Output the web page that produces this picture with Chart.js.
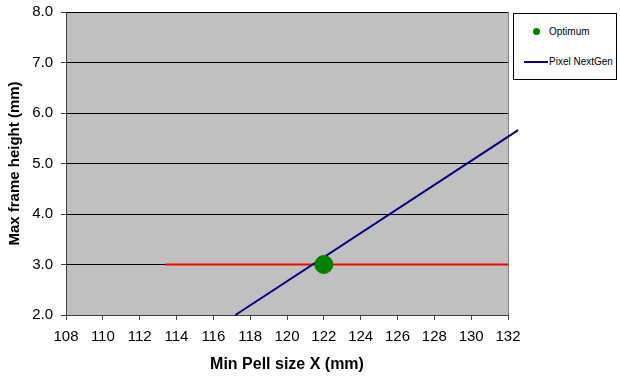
<!DOCTYPE html>
<html>
<head>
<meta charset="utf-8">
<script src="https://cdn.jsdelivr.net/npm/chart.js@4/dist/chart.umd.min.js"></script>
<style>
  body { margin: 0; background: #fff; }
  #wrap { position: relative; width: 620px; height: 378px; }
  #legend {
    position: absolute; left: 513px; top: 13px; width: 104px; height: 67px;
    border: 1px solid #000; box-sizing: border-box; background: #fff;
    font-family: "Liberation Sans", Arial, sans-serif; font-size: 10px; color: #000;
  }
  .item { position: absolute; left: 0; display: flex; align-items: center; }
  .dot { width: 7px; height: 7px; border-radius: 50%; background: #008000; margin-left: 19px; margin-right: 9px; }
  .ln { width: 24px; height: 2px; background: #000080; margin-left: 10px; margin-right: 1px; }
</style>
</head>
<body>
<div id="wrap">
  <canvas id="chart" width="620" height="378"></canvas>
  <div id="legend">
    <div class="item" style="top:12px"><span class="dot"></span>Optimum</div>
    <div class="item" style="top:42px"><span class="ln"></span>Pixel NextGen</div>
  </div>
</div>
<script>
var xTicks = [108, 110, 112, 114, 116, 118, 120, 122, 124, 126, 128, 130, 132];
var yTicks = [2.0, 3.0, 4.0, 5.0, 6.0, 7.0, 8.0];
var optimumX = [122];
var optimumY = [3.0];
var limitX = [113.4, 132];
var limitY = [3.0, 3.0];
var nextGenX = [117.2, 132.55];
var nextGenY = [2.0, 5.66];

function pts(xs, ys) {
  var out = [];
  xs.forEach(function(x, i) { out.push({ x: x, y: ys[i] }); });
  return out;
}

var plotBg = {
  id: 'plotBg',
  beforeDraw: function(chart) {
    var a = chart.chartArea, ctx = chart.ctx;
    ctx.save();
    ctx.fillStyle = '#c0c0c0';
    ctx.fillRect(a.left, a.top, a.right - a.left, a.bottom - a.top);
    ctx.strokeStyle = '#808080';
    ctx.lineWidth = 1;
    ctx.beginPath();
    ctx.moveTo(a.right + 0.5, a.top);
    ctx.lineTo(a.right + 0.5, a.bottom);
    ctx.stroke();
    ctx.restore();
  }
};

var fam = '"Liberation Sans", Arial, sans-serif';
var tickFont = { family: fam, size: 15 };

new Chart(document.getElementById('chart'), {
  type: 'scatter',
  data: {
    datasets: [
      {
        label: 'Limit',
        type: 'line',
        data: pts(limitX, limitY),
        borderColor: '#ff0000',
        borderWidth: 2,
        pointRadius: 0,
        order: 3
      },
      {
        label: 'Pixel NextGen',
        type: 'line',
        data: pts(nextGenX, nextGenY),
        borderColor: '#000080',
        borderWidth: 2,
        pointRadius: 0,
        clip: false,
        order: 2
      },
      {
        label: 'Optimum',
        data: pts(optimumX, optimumY),
        backgroundColor: '#008000',
        borderColor: '#008000',
        pointRadius: 9,
        order: 1
      }
    ]
  },
  options: {
    responsive: false,
    animation: false,
    layout: { padding: { top: 12, right: 112, left: 0, bottom: 0 } },
    plugins: { legend: { display: false }, tooltip: { enabled: false } },
    scales: {
      x: {
        type: 'linear',
        min: xTicks[0],
        max: xTicks[xTicks.length - 1],
        afterBuildTicks: function(s) { s.ticks = xTicks.map(function(v) { return { value: v }; }); },
        afterFit: function(s) { s.height = 63; },
        grid: { drawOnChartArea: false, color: '#404040', tickLength: 5 },
        border: { color: '#404040', width: 1 },
        ticks: { color: '#000', font: tickFont, padding: 8, maxRotation: 0 },
        title: {
          display: true, text: 'Min Pell size X (mm)', color: '#000',
          font: { family: fam, size: 16, weight: 'bold' }, padding: { top: 4, bottom: 4 }
        }
      },
      y: {
        min: yTicks[0],
        max: yTicks[yTicks.length - 1],
        afterBuildTicks: function(s) { s.ticks = yTicks.map(function(v) { return { value: v }; }); },
        afterFit: function(s) { s.width = 66; s.paddingTop = 0; s.paddingBottom = 0; },
        grid: { color: '#000', tickColor: '#404040', tickLength: 5 },
        border: { color: '#404040', width: 1 },
        ticks: {
          color: '#000', font: tickFont, padding: 8,
          callback: function(v) { return v.toFixed(1); }
        },
        title: {
          display: true, text: 'Max frame height (mm)', color: '#000',
          font: { family: fam, size: 15, weight: 'bold' }, padding: { top: 6, bottom: 4 }
        }
      }
    }
  },
  plugins: [plotBg]
});
</script>
</body>
</html>
